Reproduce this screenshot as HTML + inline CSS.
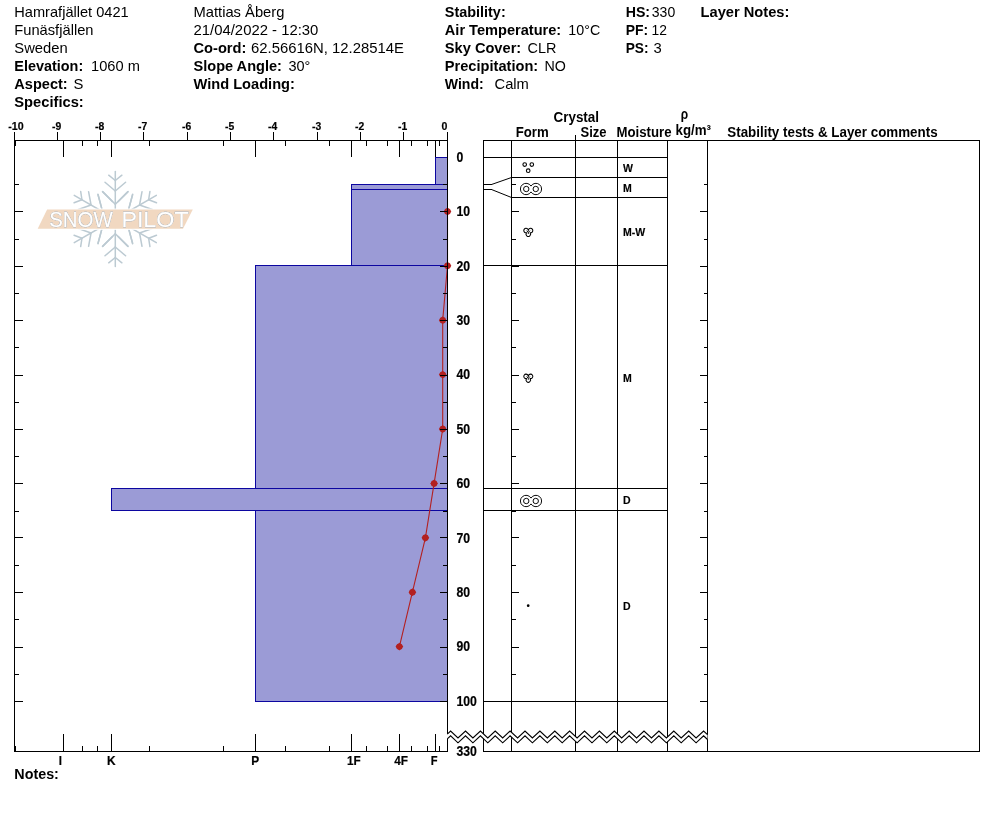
<!DOCTYPE html>
<html lang="en"><head><meta charset="utf-8"><title>Snow Profile - Hamrafjället 0421</title>
<style>html,body{margin:0;padding:0;background:#fff;}body{width:994px;height:840px;overflow:hidden;}svg{display:block;font-family:"Liberation Sans",Arial,Helvetica,sans-serif;}text{white-space:pre;}</style></head><body>
<svg width="994" height="840" viewBox="0 0 994 840">
<rect x="0" y="0" width="994" height="840" fill="#fff"/>
<g id="header">
<text x="14.3" y="16.6" font-size="14.8" textLength="114.4" lengthAdjust="spacingAndGlyphs">Hamrafjället 0421</text>
<text x="14.3" y="34.6" font-size="14.8" textLength="79.2" lengthAdjust="spacingAndGlyphs">Funäsfjällen</text>
<text x="14.3" y="52.6" font-size="14.8" textLength="53.4" lengthAdjust="spacingAndGlyphs">Sweden</text>
<text x="14.3" y="70.6" font-size="14.8" font-weight="bold" textLength="68.9" lengthAdjust="spacingAndGlyphs">Elevation:</text>
<text x="91" y="70.6" font-size="14.8" textLength="48.9" lengthAdjust="spacingAndGlyphs">1060 m</text>
<text x="14.3" y="88.6" font-size="14.8" font-weight="bold" textLength="53.4" lengthAdjust="spacingAndGlyphs">Aspect:</text>
<text x="73.5" y="88.6" font-size="14.8">S</text>
<text x="14.3" y="106.6" font-size="14.8" font-weight="bold" textLength="69.4" lengthAdjust="spacingAndGlyphs">Specifics:</text>
<text x="193.5" y="16.6" font-size="14.8" textLength="90.9" lengthAdjust="spacingAndGlyphs">Mattias Åberg</text>
<text x="193.5" y="34.6" font-size="14.8" textLength="124.9" lengthAdjust="spacingAndGlyphs">21/04/2022 - 12:30</text>
<text x="193.5" y="52.6" font-size="14.8" font-weight="bold" textLength="52.9" lengthAdjust="spacingAndGlyphs">Co-ord:</text>
<text x="251" y="52.6" font-size="14.8" textLength="152.9" lengthAdjust="spacingAndGlyphs">62.56616N, 12.28514E</text>
<text x="193.5" y="70.6" font-size="14.8" font-weight="bold" textLength="88.4" lengthAdjust="spacingAndGlyphs">Slope Angle:</text>
<text x="288.5" y="70.6" font-size="14.8" textLength="21.9" lengthAdjust="spacingAndGlyphs">30°</text>
<text x="193.5" y="88.6" font-size="14.8" font-weight="bold" textLength="101.4" lengthAdjust="spacingAndGlyphs">Wind Loading:</text>
<text x="444.8" y="16.6" font-size="14.8" font-weight="bold" textLength="60.9" lengthAdjust="spacingAndGlyphs">Stability:</text>
<text x="444.8" y="34.6" font-size="14.8" font-weight="bold" textLength="116.4" lengthAdjust="spacingAndGlyphs">Air Temperature:</text>
<text x="568.3" y="34.6" font-size="14.8" textLength="31.9" lengthAdjust="spacingAndGlyphs">10°C</text>
<text x="444.8" y="52.6" font-size="14.8" font-weight="bold" textLength="76.4" lengthAdjust="spacingAndGlyphs">Sky Cover:</text>
<text x="527.5" y="52.6" font-size="14.8" textLength="28.9" lengthAdjust="spacingAndGlyphs">CLR</text>
<text x="444.8" y="70.6" font-size="14.8" font-weight="bold" textLength="93.4" lengthAdjust="spacingAndGlyphs">Precipitation:</text>
<text x="544.5" y="70.6" font-size="14.8" textLength="21.4" lengthAdjust="spacingAndGlyphs">NO</text>
<text x="444.8" y="88.6" font-size="14.8" font-weight="bold" textLength="38.9" lengthAdjust="spacingAndGlyphs">Wind:</text>
<text x="494.5" y="88.6" font-size="14.8" textLength="34.4" lengthAdjust="spacingAndGlyphs">Calm</text>
<text x="625.7" y="16.6" font-size="14.8" font-weight="bold" textLength="24.4" lengthAdjust="spacingAndGlyphs">HS:</text>
<text x="651.8" y="16.6" font-size="14.8" textLength="23.4" lengthAdjust="spacingAndGlyphs">330</text>
<text x="625.7" y="34.6" font-size="14.8" font-weight="bold" textLength="22.4" lengthAdjust="spacingAndGlyphs">PF:</text>
<text x="651.5" y="34.6" font-size="14.8" textLength="15.4" lengthAdjust="spacingAndGlyphs">12</text>
<text x="625.7" y="52.6" font-size="14.8" font-weight="bold" textLength="22.9" lengthAdjust="spacingAndGlyphs">PS:</text>
<text x="653.5" y="52.6" font-size="14.8">3</text>
<text x="700.5" y="16.6" font-size="14.8" font-weight="bold" textLength="88.9" lengthAdjust="spacingAndGlyphs">Layer Notes:</text>
</g>
<g id="logo">
<g stroke="#bccad2" stroke-width="1.5" stroke-linecap="round" fill="none">
<g transform="translate(115.3 219.0) rotate(0)">
<line x1="0" y1="0" x2="0" y2="-47.4"/>
<line x1="0" y1="-14.7" x2="-12.8" y2="-27.4"/>
<line x1="0" y1="-14.7" x2="12.8" y2="-27.4"/>
<line x1="0" y1="-28.0" x2="-10.3" y2="-36.8"/>
<line x1="0" y1="-28.0" x2="10.3" y2="-36.8"/>
<line x1="0" y1="-38.5" x2="-6.6" y2="-43.8"/>
<line x1="0" y1="-38.5" x2="6.6" y2="-43.8"/>
<line x1="-17.3" y1="-24.3" x2="-13.8" y2="-11.4"/>
<line x1="17.3" y1="-24.3" x2="13.8" y2="-11.4"/>
</g>
<g transform="translate(115.3 219.0) rotate(60)">
<line x1="0" y1="0" x2="0" y2="-47.4"/>
<line x1="0" y1="-14.7" x2="-12.8" y2="-27.4"/>
<line x1="0" y1="-14.7" x2="12.8" y2="-27.4"/>
<line x1="0" y1="-28.0" x2="-10.3" y2="-36.8"/>
<line x1="0" y1="-28.0" x2="10.3" y2="-36.8"/>
<line x1="0" y1="-38.5" x2="-6.6" y2="-43.8"/>
<line x1="0" y1="-38.5" x2="6.6" y2="-43.8"/>
<line x1="-17.3" y1="-24.3" x2="-13.8" y2="-11.4"/>
<line x1="17.3" y1="-24.3" x2="13.8" y2="-11.4"/>
</g>
<g transform="translate(115.3 219.0) rotate(120)">
<line x1="0" y1="0" x2="0" y2="-47.4"/>
<line x1="0" y1="-14.7" x2="-12.8" y2="-27.4"/>
<line x1="0" y1="-14.7" x2="12.8" y2="-27.4"/>
<line x1="0" y1="-28.0" x2="-10.3" y2="-36.8"/>
<line x1="0" y1="-28.0" x2="10.3" y2="-36.8"/>
<line x1="0" y1="-38.5" x2="-6.6" y2="-43.8"/>
<line x1="0" y1="-38.5" x2="6.6" y2="-43.8"/>
<line x1="-17.3" y1="-24.3" x2="-13.8" y2="-11.4"/>
<line x1="17.3" y1="-24.3" x2="13.8" y2="-11.4"/>
</g>
<g transform="translate(115.3 219.0) rotate(180)">
<line x1="0" y1="0" x2="0" y2="-47.4"/>
<line x1="0" y1="-14.7" x2="-12.8" y2="-27.4"/>
<line x1="0" y1="-14.7" x2="12.8" y2="-27.4"/>
<line x1="0" y1="-28.0" x2="-10.3" y2="-36.8"/>
<line x1="0" y1="-28.0" x2="10.3" y2="-36.8"/>
<line x1="0" y1="-38.5" x2="-6.6" y2="-43.8"/>
<line x1="0" y1="-38.5" x2="6.6" y2="-43.8"/>
<line x1="-17.3" y1="-24.3" x2="-13.8" y2="-11.4"/>
<line x1="17.3" y1="-24.3" x2="13.8" y2="-11.4"/>
</g>
<g transform="translate(115.3 219.0) rotate(240)">
<line x1="0" y1="0" x2="0" y2="-47.4"/>
<line x1="0" y1="-14.7" x2="-12.8" y2="-27.4"/>
<line x1="0" y1="-14.7" x2="12.8" y2="-27.4"/>
<line x1="0" y1="-28.0" x2="-10.3" y2="-36.8"/>
<line x1="0" y1="-28.0" x2="10.3" y2="-36.8"/>
<line x1="0" y1="-38.5" x2="-6.6" y2="-43.8"/>
<line x1="0" y1="-38.5" x2="6.6" y2="-43.8"/>
<line x1="-17.3" y1="-24.3" x2="-13.8" y2="-11.4"/>
<line x1="17.3" y1="-24.3" x2="13.8" y2="-11.4"/>
</g>
<g transform="translate(115.3 219.0) rotate(300)">
<line x1="0" y1="0" x2="0" y2="-47.4"/>
<line x1="0" y1="-14.7" x2="-12.8" y2="-27.4"/>
<line x1="0" y1="-14.7" x2="12.8" y2="-27.4"/>
<line x1="0" y1="-28.0" x2="-10.3" y2="-36.8"/>
<line x1="0" y1="-28.0" x2="10.3" y2="-36.8"/>
<line x1="0" y1="-38.5" x2="-6.6" y2="-43.8"/>
<line x1="0" y1="-38.5" x2="6.6" y2="-43.8"/>
<line x1="-17.3" y1="-24.3" x2="-13.8" y2="-11.4"/>
<line x1="17.3" y1="-24.3" x2="13.8" y2="-11.4"/>
</g>
</g>
<polygon points="47.1,209.6 192.8,209.6 183,228.8 37.7,228.8" fill="#f1d8c1" stroke="#fff" stroke-width="2.4" paint-order="stroke" stroke-opacity="0.85"/>
<g font-size="22.4" fill="#fff" stroke="#fff" stroke-width="0.35" style="filter:drop-shadow(0 0 0.55px #8f9092) drop-shadow(0 0 0.3px #a5a6a8)">
<text x="49.2" y="227.4" textLength="63.6" lengthAdjust="spacingAndGlyphs">SNOW</text>
<text x="121.4" y="227.4" textLength="67.2" lengthAdjust="spacingAndGlyphs">PILOT</text>
</g>
</g>
<g id="profile">
<rect x="435.5" y="157.5" width="12" height="27" fill="#9b9bd6" stroke="#0c06a0" stroke-width="1"/>
<rect x="351.5" y="184.5" width="96" height="5" fill="#9b9bd6" stroke="#0c06a0" stroke-width="1"/>
<rect x="351.5" y="189.5" width="96" height="76" fill="#9b9bd6" stroke="#0c06a0" stroke-width="1"/>
<rect x="255.5" y="265.5" width="192" height="223" fill="#9b9bd6" stroke="#0c06a0" stroke-width="1"/>
<rect x="111.5" y="488.5" width="336" height="22" fill="#9b9bd6" stroke="#0c06a0" stroke-width="1"/>
<rect x="255.5" y="510.5" width="192" height="191" fill="#9b9bd6" stroke="#0c06a0" stroke-width="1"/>
</g>
<g id="temp">
<polyline points="447.5,211.4 447.5,265.8 442.7,320.2 442.7,374.6 442.7,429.0 434.1,483.4 425.4,537.8 412.4,592.2 399.4,646.6" fill="none" stroke="#b32020" stroke-width="1.1"/>
<circle cx="447.5" cy="211.4" r="3.2" fill="#b32020"/>
<polygon points="443.6,211.4 447.5,207.5 451.4,211.4 447.5,215.3" fill="#b32020"/>
<circle cx="447.5" cy="265.8" r="3.2" fill="#b32020"/>
<polygon points="443.6,265.8 447.5,261.9 451.4,265.8 447.5,269.7" fill="#b32020"/>
<circle cx="442.7" cy="320.2" r="3.2" fill="#b32020"/>
<polygon points="438.8,320.2 442.7,316.3 446.6,320.2 442.7,324.1" fill="#b32020"/>
<circle cx="442.7" cy="374.6" r="3.2" fill="#b32020"/>
<polygon points="438.8,374.6 442.7,370.7 446.6,374.6 442.7,378.5" fill="#b32020"/>
<circle cx="442.7" cy="429.0" r="3.2" fill="#b32020"/>
<polygon points="438.8,429.0 442.7,425.1 446.6,429.0 442.7,432.9" fill="#b32020"/>
<circle cx="434.1" cy="483.4" r="3.2" fill="#b32020"/>
<polygon points="430.2,483.4 434.1,479.5 438.0,483.4 434.1,487.3" fill="#b32020"/>
<circle cx="425.4" cy="537.8" r="3.2" fill="#b32020"/>
<polygon points="421.5,537.8 425.4,533.9 429.3,537.8 425.4,541.7" fill="#b32020"/>
<circle cx="412.4" cy="592.2" r="3.2" fill="#b32020"/>
<polygon points="408.5,592.2 412.4,588.3 416.3,592.2 412.4,596.1" fill="#b32020"/>
<circle cx="399.4" cy="646.6" r="3.2" fill="#b32020"/>
<polygon points="395.5,646.6 399.4,642.7 403.3,646.6 399.4,650.5" fill="#b32020"/>
</g>
<g id="axes" shape-rendering="crispEdges">
<rect x="14" y="140" width="1" height="612" fill="#000"/>
<rect x="447" y="140" width="1" height="594" fill="#000"/>
<rect x="447" y="739" width="1" height="13" fill="#000"/>
<rect x="14" y="140" width="434" height="1" fill="#000"/>
<rect x="14" y="751" width="434" height="1" fill="#000"/>
<rect x="447" y="132" width="1" height="9" fill="#000"/>
<rect x="403" y="132" width="1" height="9" fill="#000"/>
<rect x="360" y="132" width="1" height="9" fill="#000"/>
<rect x="317" y="132" width="1" height="9" fill="#000"/>
<rect x="273" y="132" width="1" height="9" fill="#000"/>
<rect x="230" y="132" width="1" height="9" fill="#000"/>
<rect x="187" y="132" width="1" height="9" fill="#000"/>
<rect x="143" y="132" width="1" height="9" fill="#000"/>
<rect x="100" y="132" width="1" height="9" fill="#000"/>
<rect x="57" y="132" width="1" height="9" fill="#000"/>
<rect x="14" y="132" width="1" height="9" fill="#000"/>
<rect x="63" y="140" width="1" height="17" fill="#000"/>
<rect x="63" y="734" width="1" height="18" fill="#000"/>
<rect x="111" y="140" width="1" height="17" fill="#000"/>
<rect x="111" y="734" width="1" height="18" fill="#000"/>
<rect x="255" y="140" width="1" height="17" fill="#000"/>
<rect x="255" y="734" width="1" height="18" fill="#000"/>
<rect x="351" y="140" width="1" height="17" fill="#000"/>
<rect x="351" y="734" width="1" height="18" fill="#000"/>
<rect x="399" y="140" width="1" height="17" fill="#000"/>
<rect x="399" y="734" width="1" height="18" fill="#000"/>
<rect x="435" y="140" width="1" height="17" fill="#000"/>
<rect x="435" y="734" width="1" height="18" fill="#000"/>
<rect x="15" y="140" width="1" height="6" fill="#000"/>
<rect x="15" y="746" width="1" height="6" fill="#000"/>
<rect x="82" y="140" width="1" height="6" fill="#000"/>
<rect x="82" y="746" width="1" height="6" fill="#000"/>
<rect x="97" y="140" width="1" height="6" fill="#000"/>
<rect x="97" y="746" width="1" height="6" fill="#000"/>
<rect x="149" y="140" width="1" height="6" fill="#000"/>
<rect x="149" y="746" width="1" height="6" fill="#000"/>
<rect x="223" y="140" width="1" height="6" fill="#000"/>
<rect x="223" y="746" width="1" height="6" fill="#000"/>
<rect x="285" y="140" width="1" height="6" fill="#000"/>
<rect x="285" y="746" width="1" height="6" fill="#000"/>
<rect x="329" y="140" width="1" height="6" fill="#000"/>
<rect x="329" y="746" width="1" height="6" fill="#000"/>
<rect x="366" y="140" width="1" height="6" fill="#000"/>
<rect x="366" y="746" width="1" height="6" fill="#000"/>
<rect x="387" y="140" width="1" height="6" fill="#000"/>
<rect x="387" y="746" width="1" height="6" fill="#000"/>
<rect x="411" y="140" width="1" height="6" fill="#000"/>
<rect x="411" y="746" width="1" height="6" fill="#000"/>
<rect x="427" y="140" width="1" height="6" fill="#000"/>
<rect x="427" y="746" width="1" height="6" fill="#000"/>
<rect x="439" y="140" width="1" height="6" fill="#000"/>
<rect x="439" y="746" width="1" height="6" fill="#000"/>
</g>
<g id="dticks" shape-rendering="crispEdges">
<rect x="14" y="184" width="5" height="1" fill="#000"/>
<rect x="443" y="184" width="5" height="1" fill="#000"/>
<rect x="14" y="211" width="9" height="1" fill="#000"/>
<rect x="440" y="211" width="8" height="1" fill="#000"/>
<rect x="14" y="239" width="5" height="1" fill="#000"/>
<rect x="443" y="239" width="5" height="1" fill="#000"/>
<rect x="14" y="266" width="9" height="1" fill="#000"/>
<rect x="440" y="266" width="8" height="1" fill="#000"/>
<rect x="14" y="293" width="5" height="1" fill="#000"/>
<rect x="443" y="293" width="5" height="1" fill="#000"/>
<rect x="14" y="320" width="9" height="1" fill="#000"/>
<rect x="440" y="320" width="8" height="1" fill="#000"/>
<rect x="14" y="347" width="5" height="1" fill="#000"/>
<rect x="443" y="347" width="5" height="1" fill="#000"/>
<rect x="14" y="375" width="9" height="1" fill="#000"/>
<rect x="440" y="375" width="8" height="1" fill="#000"/>
<rect x="14" y="402" width="5" height="1" fill="#000"/>
<rect x="443" y="402" width="5" height="1" fill="#000"/>
<rect x="14" y="429" width="9" height="1" fill="#000"/>
<rect x="440" y="429" width="8" height="1" fill="#000"/>
<rect x="14" y="456" width="5" height="1" fill="#000"/>
<rect x="443" y="456" width="5" height="1" fill="#000"/>
<rect x="14" y="483" width="9" height="1" fill="#000"/>
<rect x="440" y="483" width="8" height="1" fill="#000"/>
<rect x="14" y="511" width="5" height="1" fill="#000"/>
<rect x="443" y="511" width="5" height="1" fill="#000"/>
<rect x="14" y="537" width="9" height="1" fill="#000"/>
<rect x="440" y="537" width="8" height="1" fill="#000"/>
<rect x="14" y="565" width="5" height="1" fill="#000"/>
<rect x="443" y="565" width="5" height="1" fill="#000"/>
<rect x="14" y="592" width="9" height="1" fill="#000"/>
<rect x="440" y="592" width="8" height="1" fill="#000"/>
<rect x="14" y="619" width="5" height="1" fill="#000"/>
<rect x="443" y="619" width="5" height="1" fill="#000"/>
<rect x="14" y="647" width="9" height="1" fill="#000"/>
<rect x="440" y="647" width="8" height="1" fill="#000"/>
<rect x="14" y="674" width="5" height="1" fill="#000"/>
<rect x="443" y="674" width="5" height="1" fill="#000"/>
<rect x="14" y="701" width="9" height="1" fill="#000"/>
<rect x="440" y="701" width="8" height="1" fill="#000"/>
</g>
<g id="axislabels" font-weight="bold" stroke="#000" stroke-width="0.2">
<text x="441.6" y="130.2" font-size="11.3" textLength="5.9" lengthAdjust="spacingAndGlyphs">0</text>
<text x="398.1" y="130.2" font-size="11.3" textLength="9.2" lengthAdjust="spacingAndGlyphs">-1</text>
<text x="355.1" y="130.2" font-size="11.3" textLength="9.2" lengthAdjust="spacingAndGlyphs">-2</text>
<text x="312.1" y="130.2" font-size="11.3" textLength="9.2" lengthAdjust="spacingAndGlyphs">-3</text>
<text x="268.1" y="130.2" font-size="11.3" textLength="9.2" lengthAdjust="spacingAndGlyphs">-4</text>
<text x="225.1" y="130.2" font-size="11.3" textLength="9.2" lengthAdjust="spacingAndGlyphs">-5</text>
<text x="182.1" y="130.2" font-size="11.3" textLength="9.2" lengthAdjust="spacingAndGlyphs">-6</text>
<text x="138.1" y="130.2" font-size="11.3" textLength="9.2" lengthAdjust="spacingAndGlyphs">-7</text>
<text x="95.1" y="130.2" font-size="11.3" textLength="9.2" lengthAdjust="spacingAndGlyphs">-8</text>
<text x="52.1" y="130.2" font-size="11.3" textLength="9.2" lengthAdjust="spacingAndGlyphs">-9</text>
<text x="8.3" y="130.2" font-size="11.3" textLength="15.4" lengthAdjust="spacingAndGlyphs">-10</text>
<text x="456.4" y="161.8" font-size="13.8" textLength="6.8" lengthAdjust="spacingAndGlyphs">0</text>
<text x="456.4" y="216.2" font-size="13.8" textLength="13.6" lengthAdjust="spacingAndGlyphs">10</text>
<text x="456.4" y="270.6" font-size="13.8" textLength="13.6" lengthAdjust="spacingAndGlyphs">20</text>
<text x="456.4" y="325.0" font-size="13.8" textLength="13.6" lengthAdjust="spacingAndGlyphs">30</text>
<text x="456.4" y="379.4" font-size="13.8" textLength="13.6" lengthAdjust="spacingAndGlyphs">40</text>
<text x="456.4" y="433.8" font-size="13.8" textLength="13.6" lengthAdjust="spacingAndGlyphs">50</text>
<text x="456.4" y="488.2" font-size="13.8" textLength="13.6" lengthAdjust="spacingAndGlyphs">60</text>
<text x="456.4" y="542.6" font-size="13.8" textLength="13.6" lengthAdjust="spacingAndGlyphs">70</text>
<text x="456.4" y="597.0" font-size="13.8" textLength="13.6" lengthAdjust="spacingAndGlyphs">80</text>
<text x="456.4" y="651.4" font-size="13.8" textLength="13.6" lengthAdjust="spacingAndGlyphs">90</text>
<text x="456.4" y="705.8" font-size="13.8" textLength="20.4" lengthAdjust="spacingAndGlyphs">100</text>
<text x="456.4" y="755.9" font-size="13.8" textLength="20.4" lengthAdjust="spacingAndGlyphs">330</text>
<text x="58.7" y="764.6" font-size="13" textLength="3.2" lengthAdjust="spacingAndGlyphs">I</text>
<text x="107" y="764.6" font-size="13" textLength="8.6" lengthAdjust="spacingAndGlyphs">K</text>
<text x="251.2" y="764.6" font-size="13" textLength="7.9" lengthAdjust="spacingAndGlyphs">P</text>
<text x="346.9" y="764.6" font-size="13" textLength="13.7" lengthAdjust="spacingAndGlyphs">1F</text>
<text x="394.2" y="764.6" font-size="13" textLength="13.8" lengthAdjust="spacingAndGlyphs">4F</text>
<text x="430.7" y="764.6" font-size="13" textLength="6.8" lengthAdjust="spacingAndGlyphs">F</text>
</g>
<text x="14.3" y="778.9" font-size="14.8" font-weight="bold" textLength="44.6" lengthAdjust="spacingAndGlyphs">Notes:</text>
<g id="table" shape-rendering="crispEdges">
<rect x="483" y="140" width="497" height="1" fill="#000"/>
<rect x="483" y="751" width="497" height="1" fill="#000"/>
<rect x="483" y="140" width="1" height="612" fill="#000"/>
<rect x="979" y="140" width="1" height="612" fill="#000"/>
<rect x="511" y="140" width="1" height="612" fill="#000"/>
<rect x="575" y="140" width="1" height="612" fill="#000"/>
<rect x="617" y="140" width="1" height="612" fill="#000"/>
<rect x="667" y="140" width="1" height="612" fill="#000"/>
<rect x="707" y="140" width="1" height="612" fill="#000"/>
<rect x="575" y="135" width="1" height="6" fill="#000"/>
<rect x="483" y="157" width="185" height="1" fill="#000"/>
<rect x="511" y="177" width="157" height="1" fill="#000"/>
<rect x="511" y="197" width="157" height="1" fill="#000"/>
<rect x="483" y="265" width="185" height="1" fill="#000"/>
<rect x="483" y="488" width="185" height="1" fill="#000"/>
<rect x="483" y="510" width="185" height="1" fill="#000"/>
<rect x="483" y="701" width="185" height="1" fill="#000"/>
<rect x="483" y="184" width="9" height="1" fill="#000"/>
<rect x="483" y="189" width="9" height="1" fill="#000"/>
</g>
<g id="tticks" shape-rendering="crispEdges">
<rect x="511" y="184" width="5" height="1" fill="#000"/>
<rect x="704" y="184" width="4" height="1" fill="#000"/>
<rect x="511" y="211" width="8" height="1" fill="#000"/>
<rect x="700" y="211" width="8" height="1" fill="#000"/>
<rect x="511" y="239" width="5" height="1" fill="#000"/>
<rect x="704" y="239" width="4" height="1" fill="#000"/>
<rect x="511" y="266" width="8" height="1" fill="#000"/>
<rect x="700" y="266" width="8" height="1" fill="#000"/>
<rect x="511" y="293" width="5" height="1" fill="#000"/>
<rect x="704" y="293" width="4" height="1" fill="#000"/>
<rect x="511" y="320" width="8" height="1" fill="#000"/>
<rect x="700" y="320" width="8" height="1" fill="#000"/>
<rect x="511" y="347" width="5" height="1" fill="#000"/>
<rect x="704" y="347" width="4" height="1" fill="#000"/>
<rect x="511" y="375" width="8" height="1" fill="#000"/>
<rect x="700" y="375" width="8" height="1" fill="#000"/>
<rect x="511" y="402" width="5" height="1" fill="#000"/>
<rect x="704" y="402" width="4" height="1" fill="#000"/>
<rect x="511" y="429" width="8" height="1" fill="#000"/>
<rect x="700" y="429" width="8" height="1" fill="#000"/>
<rect x="511" y="456" width="5" height="1" fill="#000"/>
<rect x="704" y="456" width="4" height="1" fill="#000"/>
<rect x="511" y="483" width="8" height="1" fill="#000"/>
<rect x="700" y="483" width="8" height="1" fill="#000"/>
<rect x="511" y="511" width="5" height="1" fill="#000"/>
<rect x="704" y="511" width="4" height="1" fill="#000"/>
<rect x="511" y="537" width="8" height="1" fill="#000"/>
<rect x="700" y="537" width="8" height="1" fill="#000"/>
<rect x="511" y="565" width="5" height="1" fill="#000"/>
<rect x="704" y="565" width="4" height="1" fill="#000"/>
<rect x="511" y="592" width="8" height="1" fill="#000"/>
<rect x="700" y="592" width="8" height="1" fill="#000"/>
<rect x="511" y="619" width="5" height="1" fill="#000"/>
<rect x="704" y="619" width="4" height="1" fill="#000"/>
<rect x="511" y="647" width="8" height="1" fill="#000"/>
<rect x="700" y="647" width="8" height="1" fill="#000"/>
<rect x="511" y="674" width="5" height="1" fill="#000"/>
<rect x="704" y="674" width="4" height="1" fill="#000"/>
<rect x="511" y="701" width="8" height="1" fill="#000"/>
<rect x="700" y="701" width="8" height="1" fill="#000"/>
</g>
<g stroke="#000" stroke-width="1" fill="none">
<line x1="491.5" y1="184.5" x2="511.5" y2="177.5"/>
<line x1="491.5" y1="189.5" x2="511.5" y2="197.5"/>
</g>
<polygon points="447.3,734.1 450.6,731.0 458.0,738.0 465.5,731.0 472.9,738.0 480.4,731.0 487.8,738.0 495.2,731.0 502.7,738.0 510.1,731.0 517.6,738.0 525.0,731.0 532.4,738.0 539.9,731.0 547.3,738.0 554.8,731.0 562.2,738.0 569.6,731.0 577.1,738.0 584.5,731.0 592.0,738.0 599.4,731.0 606.8,738.0 614.3,731.0 621.7,738.0 629.2,731.0 636.6,738.0 644.0,731.0 651.5,738.0 658.9,731.0 666.4,738.0 673.8,731.0 681.2,738.0 688.7,731.0 696.1,738.0 703.6,731.0 707.5,734.7 707.5,739.5 703.6,735.8 696.1,742.8 688.7,735.8 681.2,742.8 673.8,735.8 666.4,742.8 658.9,735.8 651.5,742.8 644.0,735.8 636.6,742.8 629.2,735.8 621.7,742.8 614.3,735.8 606.8,742.8 599.4,735.8 592.0,742.8 584.5,735.8 577.1,742.8 569.6,735.8 562.2,742.8 554.8,735.8 547.3,742.8 539.9,735.8 532.4,742.8 525.0,735.8 517.6,742.8 510.1,735.8 502.7,742.8 495.2,735.8 487.8,742.8 480.4,735.8 472.9,742.8 465.5,735.8 458.0,742.8 450.6,735.8 447.3,738.9" fill="#fff"/>
<polyline points="447.3,734.1 450.6,731.0 458.0,738.0 465.5,731.0 472.9,738.0 480.4,731.0 487.8,738.0 495.2,731.0 502.7,738.0 510.1,731.0 517.6,738.0 525.0,731.0 532.4,738.0 539.9,731.0 547.3,738.0 554.8,731.0 562.2,738.0 569.6,731.0 577.1,738.0 584.5,731.0 592.0,738.0 599.4,731.0 606.8,738.0 614.3,731.0 621.7,738.0 629.2,731.0 636.6,738.0 644.0,731.0 651.5,738.0 658.9,731.0 666.4,738.0 673.8,731.0 681.2,738.0 688.7,731.0 696.1,738.0 703.6,731.0 707.5,734.7" fill="none" stroke="#000" stroke-width="1.1" stroke-linejoin="miter"/>
<polyline points="447.3,738.9 450.6,735.8 458.0,742.8 465.5,735.8 472.9,742.8 480.4,735.8 487.8,742.8 495.2,735.8 502.7,742.8 510.1,735.8 517.6,742.8 525.0,735.8 532.4,742.8 539.9,735.8 547.3,742.8 554.8,735.8 562.2,742.8 569.6,735.8 577.1,742.8 584.5,735.8 592.0,742.8 599.4,735.8 606.8,742.8 614.3,735.8 621.7,742.8 629.2,735.8 636.6,742.8 644.0,735.8 651.5,742.8 658.9,735.8 666.4,742.8 673.8,735.8 681.2,742.8 688.7,735.8 696.1,742.8 703.6,735.8 707.5,739.5" fill="none" stroke="#000" stroke-width="1.1" stroke-linejoin="miter"/>
<g id="thead" font-weight="bold">
<text x="553.5" y="122.2" font-size="14" textLength="45.5" lengthAdjust="spacingAndGlyphs">Crystal</text>
<text x="515.7" y="137.2" font-size="14" textLength="33" lengthAdjust="spacingAndGlyphs">Form</text>
<text x="580.5" y="137.2" font-size="14" textLength="26" lengthAdjust="spacingAndGlyphs">Size</text>
<text x="616.5" y="137.2" font-size="14" textLength="55" lengthAdjust="spacingAndGlyphs">Moisture</text>
<text x="680.8" y="119" font-size="14" textLength="7.4" lengthAdjust="spacingAndGlyphs">ρ</text>
<text x="675.5" y="135.3" font-size="14" textLength="35.5" lengthAdjust="spacingAndGlyphs">kg/m³</text>
<text x="727.3" y="137.2" font-size="14" textLength="210.3" lengthAdjust="spacingAndGlyphs">Stability tests &amp; Layer comments</text>
</g>
<g id="moist" font-weight="bold" stroke="#000" stroke-width="0.15">
<text x="622.9" y="171.5" font-size="10.5">W</text>
<text x="622.9" y="191.5" font-size="10.5">M</text>
<text x="622.9" y="235.5" font-size="10.5">M-W</text>
<text x="622.9" y="503.5" font-size="10.5">D</text>
<text x="622.9" y="609.5" font-size="10.5">D</text>
<text x="622.9" y="381.5" font-size="10.5">M</text>
</g>
<g id="grains" stroke="#000" stroke-width="0.95" fill="none">
<circle cx="524.7" cy="164.6" r="1.8" stroke-width="1.1"/>
<circle cx="531.8" cy="164.6" r="1.8" stroke-width="1.1"/>
<circle cx="528.2" cy="170.7" r="1.8" stroke-width="1.1"/>
<path d="M531.0,186.09 A5.7 5.7 0 1 0 531.0,191.91 A5.7 5.7 0 1 0 531.0,186.09 Z"/>
<circle cx="526.25" cy="189.0" r="2.7"/>
<circle cx="535.75" cy="189.0" r="2.7"/>
<path d="M531.0,498.09 A5.7 5.7 0 1 0 531.0,503.91 A5.7 5.7 0 1 0 531.0,498.09 Z"/>
<circle cx="526.25" cy="501.0" r="2.7"/>
<circle cx="535.75" cy="501.0" r="2.7"/>
<path d="M526.55,232.78 A2.25 2.25 0 1 1 528.30,230.60 A2.25 2.25 0 1 1 530.05,232.78 A2.25 2.25 0 1 1 526.55,232.78 Z" stroke-width="1.05" stroke-linejoin="round"/>
<path d="M526.6999999999999,230.7 L528.3,232.5 L529.9,230.7 M528.3,232.5 L528.3,233.89999999999998" stroke-width="1.0"/>
<path d="M526.55,378.58 A2.25 2.25 0 1 1 528.30,376.40 A2.25 2.25 0 1 1 530.05,378.58 A2.25 2.25 0 1 1 526.55,378.58 Z" stroke-width="1.05" stroke-linejoin="round"/>
<path d="M526.6999999999999,376.5 L528.3,378.3 L529.9,376.5 M528.3,378.3 L528.3,379.7" stroke-width="1.0"/>
<circle cx="528.2" cy="605.7" r="1.35" fill="#000" stroke="none"/>
</g>
</svg></body></html>
